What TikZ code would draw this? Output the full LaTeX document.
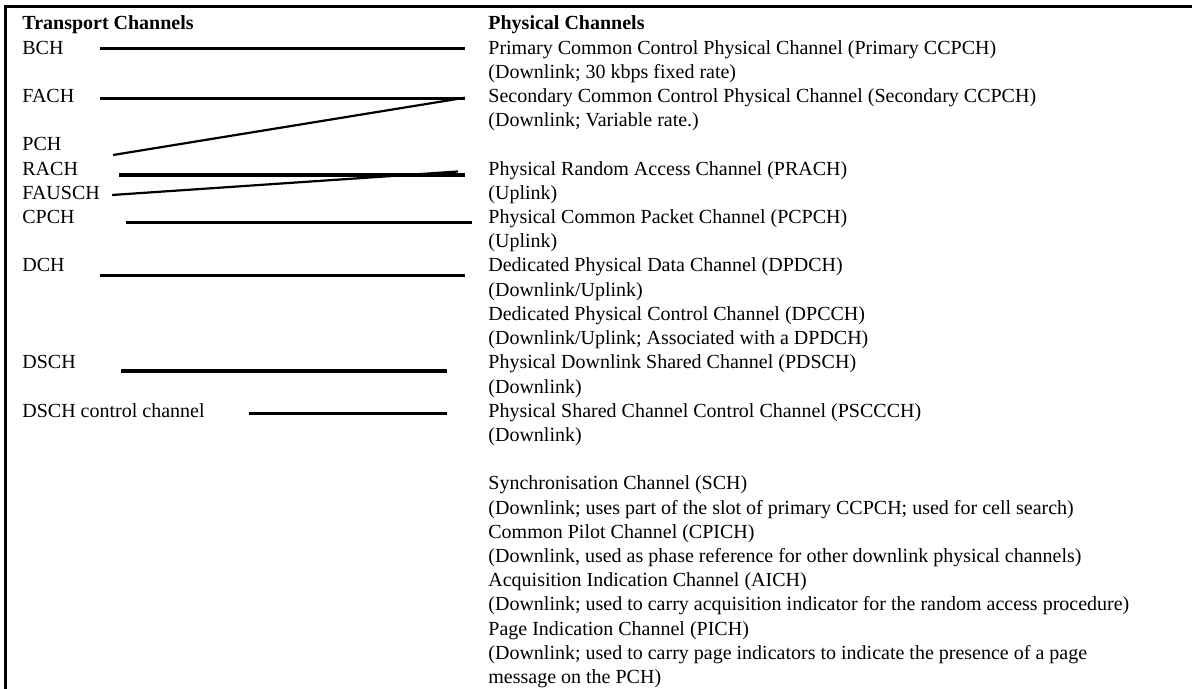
\documentclass[tikz,border=0pt]{standalone}
\usepackage{fontspec}
\setmainfont{Liberation Serif}
\begin{document}
\begin{tikzpicture}[x=0.5pt,y=-0.5pt,
  lbl/.style={anchor=base west,inner sep=0pt,font=\fontsize{10}{12}\selectfont},
  hdr/.style={lbl,font=\fontsize{10}{12}\selectfont\bfseries},
  link/.style={line width=1.6pt},
  slant/.style={line width=1.1pt},
  frame/.style={line width=1.3pt}]
\useasboundingbox (0,0) rectangle (1192,689);
\def\L{22}\def\R{488}
% frame
\coordinate (fc) at (5.5,6.5);
\coordinate (fr) at (1192,6.5);
\coordinate (fb) at (5.5,689);
\draw[frame] (fb) -- (fc) -- (fr);
% left column
\node[hdr] (tc) at (\L,{30+24.2*0}) {Transport Channels};
\node[lbl] (bch) at (\L,{30+24.2*1}) {BCH};
\node[lbl] (fach) at (\L,{30+24.2*3}) {FACH};
\node[lbl] (pch) at (\L,{30+24.2*5}) {PCH};
\node[lbl] (rach) at (\L,{30+24.2*6}) {RACH};
\node[lbl] (fausch) at (\L,{30+24.2*7}) {FAUSCH};
\node[lbl] (cpch) at (\L,{30+24.2*8}) {CPCH};
\node[lbl] (dch) at (\L,{30+24.2*10}) {DCH};
\node[lbl] (dsch) at (\L,{30+24.2*14}) {DSCH};
\node[lbl] (dschc) at (\L,{30+24.2*16}) {DSCH control channel};
% right column
\node[hdr] (pc) at (\R,{30+24.2*0}) {Physical Channels};
\node[lbl] (r1) at (\R,{30+24.2*1}) {Primary Common Control Physical Channel (Primary CCPCH)};
\node[lbl] (r2) at (\R,{30+24.2*2}) {(Downlink; 30 kbps fixed rate)};
\node[lbl] (r3) at (\R,{30+24.2*3}) {Secondary Common Control Physical Channel (Secondary CCPCH)};
\node[lbl] (r4) at (\R,{30+24.2*4}) {(Downlink; Variable rate.)};
\node[lbl] (r6) at (\R,{30+24.2*6}) {Physical Random Access Channel (PRACH)};
\node[lbl] (r7) at (\R,{30+24.2*7}) {(Uplink)};
\node[lbl] (r8) at (\R,{30+24.2*8}) {Physical Common Packet Channel (PCPCH)};
\node[lbl] (r9) at (\R,{30+24.2*9}) {(Uplink)};
\node[lbl] (r10) at (\R,{30+24.2*10}) {Dedicated Physical Data Channel (DPDCH)};
\node[lbl] (r11) at (\R,{30+24.2*11}) {(Downlink/Uplink)};
\node[lbl] (r12) at (\R,{30+24.2*12}) {Dedicated Physical Control Channel (DPCCH)};
\node[lbl] (r13) at (\R,{30+24.2*13}) {(Downlink/Uplink; Associated with a DPDCH)};
\node[lbl] (r14) at (\R,{30+24.2*14}) {Physical Downlink Shared Channel (PDSCH)};
\node[lbl] (r15) at (\R,{30+24.2*15}) {(Downlink)};
\node[lbl] (r16) at (\R,{30+24.2*16}) {Physical Shared Channel Control Channel (PSCCCH)};
\node[lbl] (r17) at (\R,{30+24.2*17}) {(Downlink)};
\node[lbl] (r19) at (\R,{30+24.2*19}) {Synchronisation Channel (SCH)};
\node[lbl] (r20) at (\R,{30+24.2*20}) {(Downlink; uses part of the slot of primary CCPCH; used for cell search)};
\node[lbl] (r21) at (\R,{30+24.2*21}) {Common Pilot Channel (CPICH)};
\node[lbl] (r22) at (\R,{30+24.2*22}) {(Downlink, used as phase reference for other downlink physical channels)};
\node[lbl] (r23) at (\R,{30+24.2*23}) {Acquisition Indication Channel (AICH)};
\node[lbl] (r24) at (\R,{30+24.2*24}) {(Downlink; used to carry acquisition indicator for the random access procedure)};
\node[lbl] (r25) at (\R,{30+24.2*25}) {Page Indication Channel (PICH)};
\node[lbl] (r26) at (\R,{30+24.2*26}) {(Downlink; used to carry page indicators to indicate the presence of a page};
\node[lbl] (r27) at (\R,{30+24.2*27}) {message on the PCH)};
% connector end points
\coordinate (bchA) at (100,48.5);   \coordinate (bchB) at (465,48.5);
\coordinate (fachA) at (100,98.3);  \coordinate (fachB) at (465,98.3);
\coordinate (pchA) at (113,155);    \coordinate (pchB) at (465,97.7);
\coordinate (rachA) at (119,175);   \coordinate (rachB) at (465,175);
\coordinate (fauA) at (112,195);    \coordinate (fauB) at (458,171.5);
\coordinate (cpchA) at (126,222.7); \coordinate (cpchB) at (472,222.7);
\coordinate (dchA) at (100,275.5);  \coordinate (dchB) at (465,275.5);
\coordinate (dschA) at (121,371);   \coordinate (dschB) at (447,371);
\coordinate (dsccA) at (249,413.3); \coordinate (dsccB) at (447,413.3);
% connectors
\draw[link] (bchA) -- (bchB);
\draw[link] (fachA) -- (fachB);
\draw[slant] (pchA) -- (pchB);
\draw[link] (rachA) -- (rachB);
\draw[slant] (fauA) -- (fauB);
\draw[link] (cpchA) -- (cpchB);
\draw[link] (dchA) -- (dchB);
\draw[link] (dschA) -- (dschB);
\draw[link] (dsccA) -- (dsccB);
\end{tikzpicture}
\end{document}
